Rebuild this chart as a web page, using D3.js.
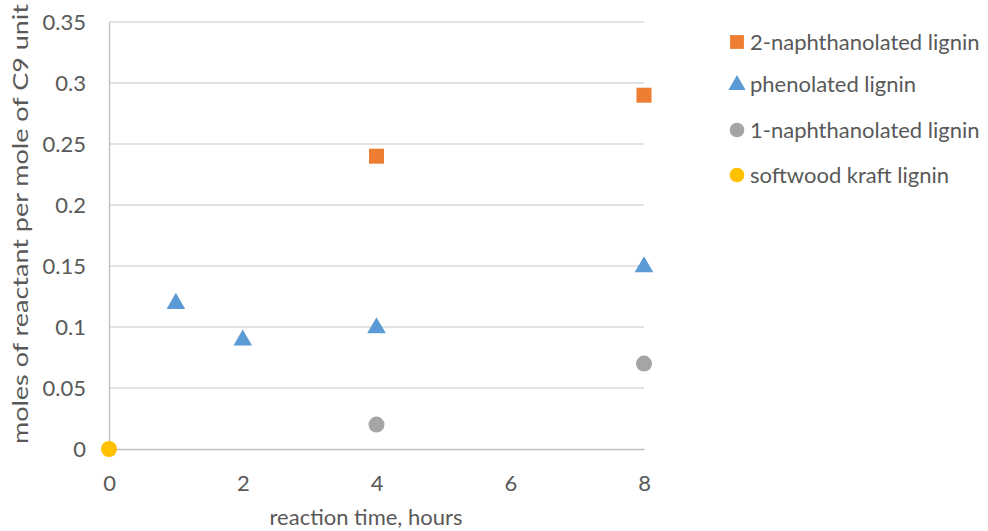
<!DOCTYPE html>
<html>
<head>
<meta charset="utf-8">
<script src="https://cdn.jsdelivr.net/npm/d3@7"></script>
<style>
  html, body { margin: 0; padding: 0; background: #fff; }
  svg text { font-family: Lato, "Open Sans", "Liberation Sans", sans-serif; fill: #595959; }
</style>
</head>
<body>
<svg id="chart" width="988" height="531"></svg>
<script>
// Series: x = reaction time (hours), y = moles of reactant per mole of C9 unit
const seriesNames = ["2-naphthanolated lignin", "phenolated lignin", "1-naphthanolated lignin", "softwood kraft lignin"];
const seriesColors = ["#ed7d31", "#5b9bd5", "#a5a5a5", "#ffc000"];
const seriesShapes = ["square", "triangle", "circle", "circle"];

const naphthanol2X = [4, 8];
const naphthanol2Y = [0.24, 0.29];
const phenolX = [1, 2, 4, 8];
const phenolY = [0.12, 0.09, 0.10, 0.15];
const naphthanol1X = [4, 8];
const naphthanol1Y = [0.02, 0.07];
const kraftX = [0];
const kraftY = [0];

const xTicks = [0, 2, 4, 6, 8];
const yTicks = [0, 0.05, 0.1, 0.15, 0.2, 0.25, 0.3, 0.35];

const xs = [naphthanol2X, phenolX, naphthanol1X, kraftX];
const ys = [naphthanol2Y, phenolY, naphthanol1Y, kraftY];

const svg = d3.select("#chart");
const plotLeft = 109, plotRight = 644, plotTop = 22, plotBottom = 449;
const fontSize = "22px";

const x = d3.scaleLinear().domain([0, 8]).range([plotLeft, plotRight]);
const y = d3.scaleLinear().domain([0, 0.35]).range([plotBottom, plotTop]);

// Horizontal gridlines
svg.append("g")
  .selectAll("line")
  .data(yTicks.filter(t => t > 0))
  .join("line")
  .attr("x1", plotLeft).attr("x2", plotRight)
  .attr("y1", d => y(d)).attr("y2", d => y(d))
  .attr("stroke", "#d9d9d9").attr("stroke-width", 1.3);

// Axes
const yAxis = svg.append("g")
  .attr("transform", `translate(${plotLeft},0)`)
  .call(d3.axisLeft(y).tickValues(yTicks).tickSize(0).tickPadding(23)
    .tickFormat(d => String(+d.toFixed(2))));
yAxis.select(".domain").attr("stroke", "#bfbfbf").attr("stroke-width", 1.3);
yAxis.selectAll("text").style("font-size", fontSize).attr("fill", "#595959");

const xAxis = svg.append("g")
  .attr("transform", `translate(0,${plotBottom})`)
  .call(d3.axisBottom(x).tickValues(xTicks).tickSize(0).tickPadding(26));
xAxis.select(".domain").attr("stroke", "#bfbfbf").attr("stroke-width", 1.3);
xAxis.selectAll("text").style("font-size", fontSize).attr("fill", "#595959");

// Axis titles
svg.append("text")
  .attr("x", 366).attr("y", 525)
  .attr("text-anchor", "middle")
  .style("font-size", fontSize)
  .text("reaction time, hours");

svg.append("text")
  .attr("transform", `translate(28,224) rotate(-90)`)
  .attr("text-anchor", "middle")
  .attr("textLength", 440)
  .attr("lengthAdjust", "spacingAndGlyphs")
  .style("font-size", fontSize)
  .text("moles of reactant per mole of C9 unit");

// Marker drawing
function symbolFor(shape, scale) {
  if (shape === "square") return d3.symbol().type(d3.symbolSquare).size(225 * scale)();
  if (shape === "triangle") return d3.symbol().type(d3.symbolTriangle).size(150 * scale)();
  return d3.symbol().type(d3.symbolCircle).size(200 * scale)();
}

seriesNames.forEach((name, i) => {
  const pts = xs[i].map((xv, j) => ({ x: xv, y: ys[i][j] }));
  svg.append("g")
    .selectAll("path")
    .data(pts)
    .join("path")
    .attr("d", symbolFor(seriesShapes[i], 1))
    .attr("transform", d => `translate(${x(d.x)},${y(d.y) + (seriesShapes[i] === "triangle" ? 1 : 0)})`)
    .attr("fill", seriesColors[i]);
});

// Legend
const legend = svg.append("g");
const legendRows = [42, 84, 130, 175];
seriesNames.forEach((name, i) => {
  const ly = legendRows[i];
  legend.append("path")
    .attr("d", symbolFor(seriesShapes[i], 0.85))
    .attr("transform", `translate(737,${ly + (seriesShapes[i] === "triangle" ? 1 : 0)})`)
    .attr("fill", seriesColors[i]);
  legend.append("text")
    .attr("x", 750).attr("y", ly + 8)
    .style("font-size", fontSize)
    .text(name);
});
</script>
</body>
</html>
